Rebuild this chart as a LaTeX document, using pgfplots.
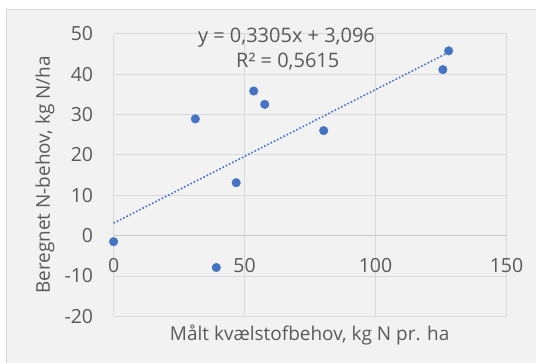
\documentclass[border=0pt]{standalone}
\usepackage{fontspec}
\setmainfont{Open Sans}
\usepackage{pgfplots}
\pgfplotsset{compat=1.18}
\definecolor{bg}{HTML}{F2F2F2}
\definecolor{bord}{HTML}{D9D9D9}
\definecolor{gridc}{HTML}{D9D9D9}
\definecolor{zeroc}{HTML}{C8C8C8}
\definecolor{txt}{HTML}{595959}
\definecolor{blue}{HTML}{4472C4}
\begin{document}
\begin{tikzpicture}[x=1pt,y=1pt]
\fill[white] (-113.7,-46.3) rectangle (422.3,316.7);
\fill[bg] (-106.7,-46.3) rectangle (422.3,306.7);
\draw[bord, line width=1pt] (-106.7,-46.3) -- (-106.7,306.7) -- (422.3,306.7);
\begin{axis}[
  at={(0,0)}, anchor=south west,
  scale only axis, width=393.3pt, height=283pt,
  xmin=0, xmax=150, ymin=-20, ymax=50,
  xtick={0,50,100,150}, xticklabels={0,50,100,150},
  ytick={-20,-10,0,10,20,30,40,50},
  yticklabels={-20,-10,0,10,20,30,40,50},
  grid=major, grid style={gridc, line width=0.8pt},
  axis line style={draw=none}, tick style={draw=none},
  ticklabel style={font=\fontsize{19.5}{22}\selectfont, text=txt},
  xticklabel style={anchor=center, yshift=50.7pt},
  yticklabel style={anchor=east, xshift=-17pt},
  xlabel={Målt kvælstofbehov, kg N pr. ha},
  ylabel={Beregnet N-behov, kg N/ha},
  label style={font=\fontsize{19}{22}\selectfont, text=txt},
  xlabel style={at={(axis description cs:0.499,-0.0647)}, anchor=center},
  ylabel style={at={(axis description cs:-0.1747,0.5007)}, anchor=center},
  clip=false,
]
\draw[zeroc, line width=0.8pt] (axis cs:0,0) -- (axis cs:150,0);
\addplot[blue, line width=1.6pt, dash pattern=on 1.6pt off 2pt] coordinates {(0,3.096) (127.9,45.37)};
\addplot[only marks, mark=*, mark size=4.3pt, color=blue, mark options={draw=blue, fill=blue}] coordinates {
(0,-1.5) (31.2,28.9) (39.2,-7.9) (46.8,13.1) (53.5,35.8) (57.7,32.5) (80.2,26.0) (125.7,41.1) (127.9,45.75)
};
\node[text=txt, font=\fontsize{20}{22}\selectfont] at (axis cs:66,48.9) {y = 0,3305x + 3,096};
\node[text=txt, font=\fontsize{20}{22}\selectfont] at (axis cs:66.5,43.0) {R² = 0,5615};
\end{axis}
\end{tikzpicture}
\end{document}
